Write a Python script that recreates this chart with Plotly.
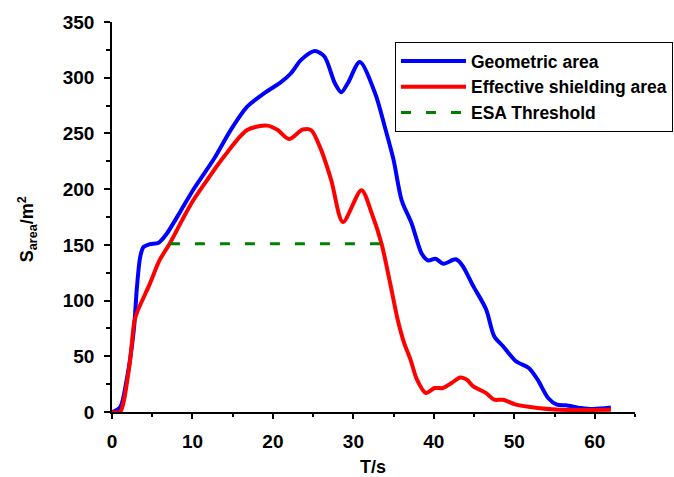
import plotly.graph_objects as go

# Geometric area (blue)
geo_t = [0, 1.0, 1.8, 2.7, 3.1, 3.5, 3.9, 4.7, 5.8, 6.8, 8.5, 10.1, 12.7, 14.75, 16.8, 18.9, 21.0, 22.25, 23.5,
         25.2, 26.4, 27.7, 28.5, 29.3, 30.8, 32.7, 33.9, 35.0, 36.0, 37.25, 38.5, 39.3, 40.2, 41.2, 42.7,
         43.5, 44.9, 46.5, 47.5, 48.6, 50.2, 51.8, 52.9, 54.2, 55.3, 56.4, 58.3, 59.8, 62.0]
geo_s = [0, 4, 28, 73, 112, 139, 148, 150.6, 152, 160, 180, 199.5, 227.5, 253, 274, 286, 296, 304, 316,
         324, 319, 295, 287, 295, 314, 286, 256, 226, 190, 169, 142, 136, 137.6, 133, 137,
         132, 113, 92, 68, 59, 45.5, 39.5, 29, 12.6, 6.6, 6, 3.6, 2.7, 4.0]

# Effective shielding area (red)
esa_t = [0, 1.0, 1.4, 2.2, 2.8, 3.2, 4.7, 5.9, 7.2, 8.7, 10.1, 12.0, 13.9, 16.8, 19.3, 20.6, 22.0, 23.7, 24.75,
         26.0, 27.25, 28.7, 31.0, 32.3, 33.5, 34.5, 35.5, 36.3, 37.1, 37.9, 39.0, 40.1, 41.1, 42.2,
         43.3, 44.1, 44.9, 46.5, 47.5, 48.6, 50.2, 52.9, 55.6, 62.0]
esa_s = [0, 0, 7.6, 43.6, 82, 91, 115, 136, 151.5, 172, 190, 210, 229, 253, 257, 253, 245, 253.5, 253,
         235, 208, 170.5, 199, 178, 151, 118, 83, 62, 47, 29, 17, 21.5, 21.5, 26,
         31, 29, 23, 17, 11, 11, 6.6, 3.6, 2.0, 2.0]

# ESA threshold
thr_t = [7.2, 33.5]
thr_s = [151, 151]

x_ticks = [0, 10, 20, 30, 40, 50, 60]
y_ticks = [0, 50, 100, 150, 200, 250, 300, 350]

FONT = "Arial, 'Liberation Sans', sans-serif"

fig = go.Figure()
fig.add_trace(go.Scatter(x=geo_t, y=geo_s, mode="lines", name="<b>Geometric area</b>",
                         line=dict(color="#0000ff", width=4, shape="spline", smoothing=0.8)))
fig.add_trace(go.Scatter(x=esa_t, y=esa_s, mode="lines", name="<b>Effective shielding area</b>",
                         line=dict(color="#ff0000", width=4, shape="spline", smoothing=0.8)))
fig.add_trace(go.Scatter(x=thr_t, y=thr_s, mode="lines", name="<b>ESA Threshold</b>",
                         line=dict(color="#008000", width=3, dash="10px,15px")))

fig.update_layout(
    width=674, height=477,
    margin=dict(l=112, r=39, t=22, b=65, autoexpand=False),
    paper_bgcolor="white", plot_bgcolor="white",
    font=dict(family=FONT, color="black"),
    showlegend=True,
    legend=dict(x=(395 - 112) / 523, y=(411.5 - 42) / 389.5, xanchor="left", yanchor="top",
                bordercolor="black", borderwidth=1, bgcolor="white",
                font=dict(size=17.5, family=FONT, color="black"),
                itemwidth=65, tracegroupgap=0),
    xaxis=dict(range=[0, 65], tickvals=x_ticks, ticktext=[f"<b>{v}</b>" for v in x_ticks],
               showgrid=False, zeroline=False, showline=True, linecolor="black", linewidth=1.5,
               ticks="outside", ticklen=5, tickwidth=1.5, tickcolor="black",
               minor=dict(dtick=5, tick0=0, ticks="outside", ticklen=3, tickwidth=1.5, tickcolor="black"),
               tickfont=dict(size=19, family=FONT), ticklabelstandoff=6),
    yaxis=dict(range=[0, 350], tickvals=y_ticks, ticktext=[f"<b>{v}</b>" for v in y_ticks],
               showgrid=False, zeroline=False, showline=True, linecolor="black", linewidth=1.5,
               ticks="outside", ticklen=6, tickwidth=1.5, tickcolor="black",
               minor=dict(dtick=25, tick0=0, ticks="outside", ticklen=4, tickwidth=1.5, tickcolor="black"),
               tickfont=dict(size=19, family=FONT), ticklabelstandoff=6),
    annotations=[
        dict(text="<b>T/s</b>", xref="paper", yref="paper", x=(373 - 112) / 523, y=(411.5 - 466) / 389.5,
             showarrow=False, font=dict(size=18, family=FONT), xanchor="center", yanchor="middle"),
        dict(text="<b>S<sub>area</sub>/m<sup>2</sup></b>", xref="paper", yref="paper",
             x=(27 - 112) / 523, y=(411.5 - 229) / 389.5, textangle=-90,
             showarrow=False, font=dict(size=18, family=FONT), xanchor="center", yanchor="middle"),
    ],
)

html = fig.to_html(full_html=True, include_plotlyjs=True, config={"displayModeBar": False})
html = html.replace("<head>", "<head><style>html,body{margin:0;padding:0;overflow:hidden;}</style>", 1)
with open("out.html", "w", encoding="utf-8") as f:
    f.write(html)
